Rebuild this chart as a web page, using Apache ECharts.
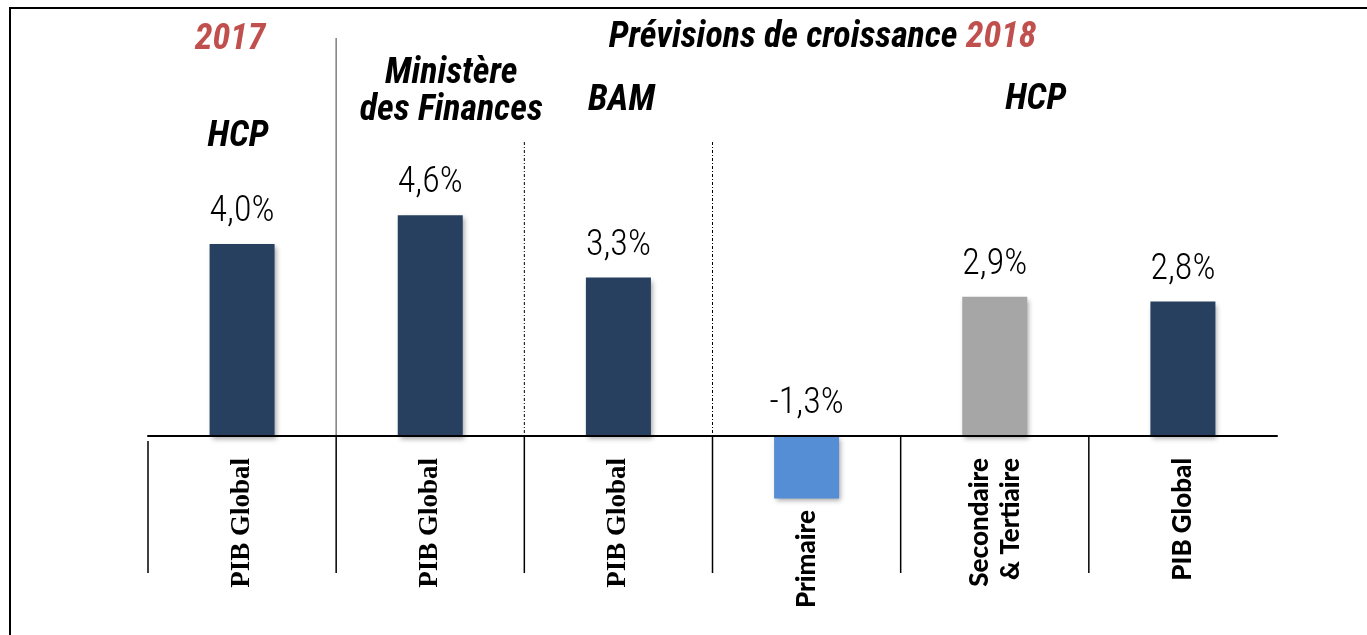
<!DOCTYPE html>
<html><head><meta charset="utf-8">
<script src="https://cdn.jsdelivr.net/npm/echarts@6/dist/echarts.min.js"></script>
<style>html,body{margin:0;padding:0;background:#fff}#c{width:1367px;height:635px}</style>
</head><body><div id="c"></div>
<script>
// ---- data ----
const categories = ['PIB Global', 'PIB Global', 'PIB Global', 'Primaire', 'Secondaire\n& Tertiaire', 'PIB Global'];
const values = [4.0, 4.6, 3.3, -1.3, 2.9, 2.8];
const valueLabels = ['4,0%', '4,6%', '3,3%', '-1,3%', '2,9%', '2,8%'];
const yearLeft = '2017';
const yearRight = '2018';
const forecastTitle = 'Prévisions de croissance ';
const sourceHeaders = ['HCP', 'Ministère\ndes Finances', 'BAM', 'HCP'];

// ---- styles ----
const NAVY = '#27405F', BLUE = '#558ED5', GRAY = '#A6A6A6', RED = '#C0504D';
const colorFor = i => (i === 3 ? BLUE : (i === 4 ? GRAY : NAVY));
const labelKindFor = i => (i < 3 ? 'serif' : (i === 3 ? 'prim' : 'sans'));
const COND = '"Roboto Condensed", "DejaVu Sans Condensed", sans-serif';

const chart = echarts.init(document.getElementById('c'), null, {renderer: 'canvas'});

const option = {
  animation: false,
  backgroundColor: '#fff',
  grid: {left: 148, right: 90, top: 196, bottom: 103, containLabel: false, outerBoundsMode: 'none'},
  xAxis: {
    type: 'category',
    data: categories,
    z: 5,
    axisLine: {onZero: true, lineStyle: {color: '#000', width: 2}},
    axisTick: {show: false},
    axisLabel: {
      interval: 0,
      rotate: 90,
      margin: -74,
      hideOverlap: false,
      formatter: (v, idx) => {
        const k = labelKindFor(idx);
        return v.split('\n').map(s => '{' + k + '|' + s + '}').join('\n');
      },
      rich: {
        serif: {fontFamily: '"Liberation Serif", "DejaVu Serif", serif', fontWeight: 'bold', fontSize: 27, color: '#000'},
        sans: {fontFamily: 'Lato, "Open Sans", sans-serif', fontWeight: 900, fontSize: 26, color: '#000', lineHeight: 31},
        prim: {fontFamily: 'Lato, "Open Sans", sans-serif', fontWeight: 900, fontSize: 26, color: '#000', padding: [0, 52, 0, 0]}
      }
    }
  },
  yAxis: {type: 'value', min: -2, max: 5, show: false, splitLine: {show: false}},
  series: [{
    type: 'bar',
    barWidth: 65,
    z: 2,
    data: values.map((v, i) => ({value: v, itemStyle: {color: colorFor(i)}})),
    itemStyle: {shadowColor: 'rgba(0,0,0,0.35)', shadowBlur: 5, shadowOffsetX: 2, shadowOffsetY: 3},
    label: {
      show: true,
      position: 'top',
      distance: 14,
      formatter: p => valueLabels[p.dataIndex],
      fontFamily: COND,
      fontWeight: 300,
      fontSize: 36,
      color: '#000'
    }
  }]
};
chart.setOption(option);

// ---- decorations placed through the axis scales ----
const cx = i => chart.convertToPixel({xAxisIndex: 0}, i);
const y0 = chart.convertToPixel({yAxisIndex: 0}, 0);
const band = cx(1) - cx(0);
const bnd = i => cx(i) - band / 2;
const gridRight = bnd(categories.length);

const g = [];
// frame
g.push({type: 'line', shape: {x1: 9, y1: 8, x2: 1367, y2: 8}, style: {stroke: '#000', lineWidth: 2}});
g.push({type: 'line', shape: {x1: 10, y1: 7, x2: 10, y2: 635}, style: {stroke: '#000', lineWidth: 2}});
// separators below the axis
for (let i = 0; i < categories.length; i++) {
  g.push({type: 'line', z: 10, shape: {x1: bnd(i), y1: y0 + (i === 0 ? 5 : 0), x2: bnd(i), y2: y0 + 137}, style: {stroke: '#000', lineWidth: 1.5}});
}
// separators above the axis
g.push({type: 'line', shape: {x1: bnd(1), y1: 38, x2: bnd(1), y2: y0}, style: {stroke: '#7f7f7f', lineWidth: 1.5}});
[2, 3].forEach(i => g.push({type: 'line', shape: {x1: bnd(i), y1: 142, x2: bnd(i), y2: y0}, style: {stroke: '#000', lineWidth: 1, lineDash: [3, 2, 1, 2]}}));

const hdr = (text, x, y, extra) => ({
  type: 'text', z: 10,
  style: Object.assign({text: text, x: x, y: y, align: 'center', verticalAlign: 'middle',
    fontFamily: COND, fontWeight: 'bold', fontStyle: 'italic', fontSize: 36, fill: '#000'}, extra || {})
});
g.push(hdr(yearLeft, cx(0) - 12, 40, {fill: RED}));
g.push(hdr(sourceHeaders[0], cx(0) - 4, 137));
g.push(hdr(sourceHeaders[1], cx(1) + 21, 92, {lineHeight: 37}));
g.push(hdr(sourceHeaders[2], cx(2) + 3, 101));
g.push(hdr(sourceHeaders[3], cx(4) + 41, 100));
g.push({
  type: 'text', z: 10,
  style: {
    text: '{a|' + forecastTitle + '}{b|' + yearRight + '}',
    x: (bnd(1) + gridRight) / 2 + 16, y: 38, align: 'center', verticalAlign: 'middle',
    rich: {
      a: {fontFamily: COND, fontWeight: 'bold', fontStyle: 'italic', fontSize: 36, fill: '#000'},
      b: {fontFamily: COND, fontWeight: 'bold', fontStyle: 'italic', fontSize: 36, fill: RED}
    }
  }
});
chart.setOption({graphic: {elements: g}});
</script>
</body></html>
